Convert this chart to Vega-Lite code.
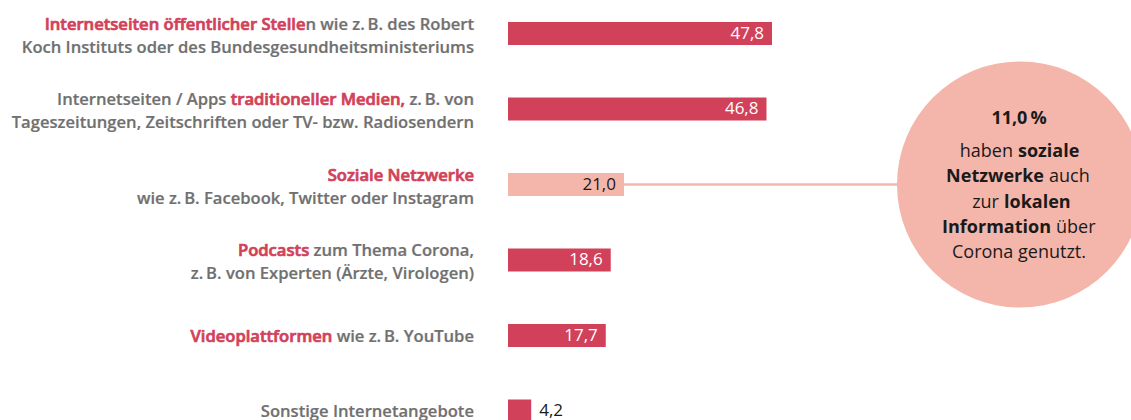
{
  "$schema": "https://vega.github.io/schema/vega-lite/v6.json",
  "autosize": "none",
  "width": 1131,
  "height": 420,
  "padding": 0,
  "background": "white",
  "config": {
    "view": {"stroke": null},
    "locale": {"number": {"decimal": ",", "thousands": ".", "grouping": [3], "currency": ["", " €"]}},
    "text": {"font": "Open Sans"}
  },
  "datasets": {
    "rows": [
      {"cat": "Öffentliche Stellen", "value": 47.8, "highlight": "nein",
       "label": "Internetseiten öffentlicher Stellen wie z.\u2009B. des Robert\nKoch Instituts oder des Bundesgesundheitsministeriums",
       "red": "Internetseiten öffentlicher Stellen wie z.\u2009B. des Robert\n",
       "tail": "n wie z.\u2009B. des Robert\n"},
      {"cat": "Traditionelle Medien", "value": 46.8, "highlight": "nein",
       "label": "Internetseiten / Apps traditioneller Medien, z.\u2009B. von\nTageszeitungen, Zeitschriften oder TV- bzw. Radiosendern",
       "red": "traditioneller Medien, z.\u2009B. von\n",
       "tail": "z.\u2009B. von\n"},
      {"cat": "Soziale Netzwerke", "value": 21.0, "highlight": "ja",
       "label": "Soziale Netzwerke\nwie z.\u2009B. Facebook, Twitter oder Instagram",
       "red": "Soziale Netzwerke\n",
       "tail": ""},
      {"cat": "Podcasts", "value": 18.6, "highlight": "nein",
       "label": "Podcasts zum Thema Corona,\nz.\u2009B. von Experten (Ärzte, Virologen)",
       "red": "Podcasts zum Thema Corona,\n",
       "tail": "zum Thema Corona,\n"},
      {"cat": "Videoplattformen", "value": 17.7, "highlight": "nein",
       "label": "Videoplattformen wie z.\u2009B. YouTube",
       "red": "Videoplattformen wie z.\u2009B. YouTube",
       "tail": "wie z.\u2009B. YouTube"},
      {"cat": "Sonstige", "value": 4.2, "highlight": "nein",
       "label": "Sonstige Internetangebote",
       "red": "",
       "tail": ""}
    ],
    "note": [
      {"part": "pct", "t": "11,0\u2009%"},
      {"part": "l2a", "t": "haben"},
      {"part": "l2b", "t": "soziale"},
      {"part": "l3a", "t": "Netzwerke"},
      {"part": "l3b", "t": "auch"},
      {"part": "l4a", "t": "zur"},
      {"part": "l4b", "t": "lokalen"},
      {"part": "l5a", "t": "Information"},
      {"part": "l5b", "t": "über"},
      {"part": "l6", "t": "Corona genutzt."}
    ]
  },
  "data": {"name": "rows"},
  "encoding": {
    "y": {
      "field": "cat", "type": "nominal", "sort": null, "axis": null,
      "scale": {
        "domain": ["Öffentliche Stellen", "Traditionelle Medien", "Soziale Netzwerke", "Podcasts", "Videoplattformen", "Sonstige"],
        "range": [-4.25, 448.75], "paddingInner": 0.6954, "paddingOuter": 0.3477
      }
    }
  },
  "layer": [
    {
      "mark": {"type": "bar"},
      "encoding": {
        "x": {"field": "value", "type": "quantitative", "axis": null,
              "scale": {"domain": [-91.98, 112.8], "nice": false, "zero": false}},
        "x2": {"datum": 0},
        "color": {"condition": {"test": "datum.highlight == 'ja'", "value": "#f4b6ab"}, "value": "#d2415a"}
      }
    },
    {
      "transform": [{"filter": "datum.value >= 10"}],
      "mark": {"type": "text", "align": "right", "baseline": "middle", "dx": -8, "fontSize": 17},
      "encoding": {
        "x": {"field": "value", "type": "quantitative"},
        "text": {"field": "value", "type": "quantitative", "format": ".1f"},
        "color": {"condition": {"test": "datum.highlight == 'ja'", "value": "#1a1a1a"}, "value": "#ffffff"}
      }
    },
    {
      "transform": [{"filter": "datum.value < 10"}],
      "mark": {"type": "text", "align": "left", "baseline": "middle", "dx": 8, "fontSize": 17, "color": "#1a1a1a"},
      "encoding": {
        "x": {"field": "value", "type": "quantitative"},
        "text": {"field": "value", "type": "quantitative", "format": ".1f"}
      }
    },

    {
      "transform": [{"filter": "indexof(datum.label, '\\n') >= 0"}],
      "mark": {"type": "text", "align": "right", "baseline": "middle", "dx": -34, "dy": -9, "fontSize": 16.6, "fontWeight": 600, "lineBreak": "\n", "lineHeight": 23, "color": "#707070", "stroke": "#707070", "strokeWidth": 0.2},
      "encoding": {"x": {"datum": 0}, "text": {"field": "label", "type": "nominal"}}
    },
    {
      "transform": [{"filter": "indexof(datum.label, '\\n') >= 0"}],
      "mark": {"type": "text", "align": "right", "baseline": "middle", "dx": -34, "dy": -9, "fontSize": 16.6, "fontWeight": 600, "lineBreak": "\n", "lineHeight": 23, "color": "#ffffff", "stroke": "#ffffff", "strokeWidth": 1.8},
      "encoding": {"x": {"datum": 0}, "text": {"field": "red", "type": "nominal"}}
    },
    {
      "transform": [{"filter": "indexof(datum.label, '\\n') >= 0"}],
      "mark": {"type": "text", "align": "right", "baseline": "middle", "dx": -34, "dy": -9, "fontSize": 16.6, "fontWeight": 600, "lineBreak": "\n", "lineHeight": 23, "color": "#d2415a", "stroke": "#d2415a", "strokeWidth": 0.7},
      "encoding": {"x": {"datum": 0}, "text": {"field": "red", "type": "nominal"}}
    },
    {
      "transform": [{"filter": "indexof(datum.label, '\\n') >= 0"}],
      "mark": {"type": "text", "align": "right", "baseline": "middle", "dx": -34, "dy": -9, "fontSize": 16.6, "fontWeight": 600, "lineBreak": "\n", "lineHeight": 23, "color": "#ffffff", "stroke": "#ffffff", "strokeWidth": 1.8},
      "encoding": {"x": {"datum": 0}, "text": {"field": "tail", "type": "nominal"}}
    },
    {
      "transform": [{"filter": "indexof(datum.label, '\\n') >= 0"}],
      "mark": {"type": "text", "align": "right", "baseline": "middle", "dx": -34, "dy": -9, "fontSize": 16.6, "fontWeight": 600, "lineBreak": "\n", "lineHeight": 23, "color": "#707070", "stroke": "#707070", "strokeWidth": 0.2},
      "encoding": {"x": {"datum": 0}, "text": {"field": "tail", "type": "nominal"}}
    },

    {
      "transform": [{"filter": "indexof(datum.label, '\\n') < 0"}],
      "mark": {"type": "text", "align": "right", "baseline": "middle", "dx": -34, "dy": 1, "fontSize": 16.6, "fontWeight": 600, "color": "#707070", "stroke": "#707070", "strokeWidth": 0.2},
      "encoding": {"x": {"datum": 0}, "text": {"field": "label", "type": "nominal"}}
    },
    {
      "transform": [{"filter": "indexof(datum.label, '\\n') < 0"}],
      "mark": {"type": "text", "align": "right", "baseline": "middle", "dx": -34, "dy": 1, "fontSize": 16.6, "fontWeight": 600, "color": "#ffffff", "stroke": "#ffffff", "strokeWidth": 1.8},
      "encoding": {"x": {"datum": 0}, "text": {"field": "red", "type": "nominal"}}
    },
    {
      "transform": [{"filter": "indexof(datum.label, '\\n') < 0"}],
      "mark": {"type": "text", "align": "right", "baseline": "middle", "dx": -34, "dy": 1, "fontSize": 16.6, "fontWeight": 600, "color": "#d2415a", "stroke": "#d2415a", "strokeWidth": 0.7},
      "encoding": {"x": {"datum": 0}, "text": {"field": "red", "type": "nominal"}}
    },
    {
      "transform": [{"filter": "indexof(datum.label, '\\n') < 0"}],
      "mark": {"type": "text", "align": "right", "baseline": "middle", "dx": -34, "dy": 1, "fontSize": 16.6, "fontWeight": 600, "color": "#ffffff", "stroke": "#ffffff", "strokeWidth": 1.8},
      "encoding": {"x": {"datum": 0}, "text": {"field": "tail", "type": "nominal"}}
    },
    {
      "transform": [{"filter": "indexof(datum.label, '\\n') < 0"}],
      "mark": {"type": "text", "align": "right", "baseline": "middle", "dx": -34, "dy": 1, "fontSize": 16.6, "fontWeight": 600, "color": "#707070", "stroke": "#707070", "strokeWidth": 0.2},
      "encoding": {"x": {"datum": 0}, "text": {"field": "tail", "type": "nominal"}}
    },

    {
      "transform": [{"filter": "datum.highlight == 'ja'"}],
      "mark": {"type": "rule", "color": "#f4b6ab", "strokeWidth": 2.5},
      "encoding": {"x": {"field": "value", "type": "quantitative"}, "x2": {"datum": 92.7}}
    },
    {
      "transform": [{"filter": "datum.highlight == 'ja'"}],
      "mark": {"type": "point", "shape": "circle", "filled": true, "opacity": 1, "size": 60516, "color": "#f4b6ab"},
      "encoding": {"x": {"datum": 92.7}}
    },
    {
      "data": {"name": "note"},
      "transform": [{"filter": "datum.part == 'pct'"}],
      "mark": {"type": "text", "align": "center", "baseline": "middle", "dx": -1, "dy": -65.5, "fontSize": 18, "fontWeight": "bold", "color": "#1a1a1a"},
      "encoding": {"x": {"datum": 92.7}, "y": {"datum": "Soziale Netzwerke"}, "text": {"field": "t", "type": "nominal"}}
    },
    {
      "data": {"name": "note"},
      "transform": [{"filter": "datum.part == 'l2a'"}],
      "mark": {"type": "text", "align": "right", "baseline": "middle", "dx": -7, "dy": -32.5, "fontSize": 18, "color": "#1a1a1a"},
      "encoding": {"x": {"datum": 92.7}, "y": {"datum": "Soziale Netzwerke"}, "text": {"field": "t", "type": "nominal"}}
    },
    {
      "data": {"name": "note"},
      "transform": [{"filter": "datum.part == 'l2b'"}],
      "mark": {"type": "text", "align": "left", "baseline": "middle", "dx": -2, "dy": -32.5, "fontSize": 18, "fontWeight": "bold", "color": "#1a1a1a"},
      "encoding": {"x": {"datum": 92.7}, "y": {"datum": "Soziale Netzwerke"}, "text": {"field": "t", "type": "nominal"}}
    },
    {
      "data": {"name": "note"},
      "transform": [{"filter": "datum.part == 'l3a'"}],
      "mark": {"type": "text", "align": "right", "baseline": "middle", "dx": 24, "dy": -7.5, "fontSize": 18, "fontWeight": "bold", "color": "#1a1a1a"},
      "encoding": {"x": {"datum": 92.7}, "y": {"datum": "Soziale Netzwerke"}, "text": {"field": "t", "type": "nominal"}}
    },
    {
      "data": {"name": "note"},
      "transform": [{"filter": "datum.part == 'l3b'"}],
      "mark": {"type": "text", "align": "left", "baseline": "middle", "dx": 29, "dy": -7.5, "fontSize": 18, "color": "#1a1a1a"},
      "encoding": {"x": {"datum": 92.7}, "y": {"datum": "Soziale Netzwerke"}, "text": {"field": "t", "type": "nominal"}}
    },
    {
      "data": {"name": "note"},
      "transform": [{"filter": "datum.part == 'l4a'"}],
      "mark": {"type": "text", "align": "right", "baseline": "middle", "dx": -21, "dy": 18.5, "fontSize": 18, "color": "#1a1a1a"},
      "encoding": {"x": {"datum": 92.7}, "y": {"datum": "Soziale Netzwerke"}, "text": {"field": "t", "type": "nominal"}}
    },
    {
      "data": {"name": "note"},
      "transform": [{"filter": "datum.part == 'l4b'"}],
      "mark": {"type": "text", "align": "left", "baseline": "middle", "dx": -16, "dy": 18.5, "fontSize": 18, "fontWeight": "bold", "color": "#1a1a1a"},
      "encoding": {"x": {"datum": 92.7}, "y": {"datum": "Soziale Netzwerke"}, "text": {"field": "t", "type": "nominal"}}
    },
    {
      "data": {"name": "note"},
      "transform": [{"filter": "datum.part == 'l5a'"}],
      "mark": {"type": "text", "align": "right", "baseline": "middle", "dx": 31, "dy": 43.5, "fontSize": 18, "fontWeight": "bold", "color": "#1a1a1a"},
      "encoding": {"x": {"datum": 92.7}, "y": {"datum": "Soziale Netzwerke"}, "text": {"field": "t", "type": "nominal"}}
    },
    {
      "data": {"name": "note"},
      "transform": [{"filter": "datum.part == 'l5b'"}],
      "mark": {"type": "text", "align": "left", "baseline": "middle", "dx": 36, "dy": 43.5, "fontSize": 18, "color": "#1a1a1a"},
      "encoding": {"x": {"datum": 92.7}, "y": {"datum": "Soziale Netzwerke"}, "text": {"field": "t", "type": "nominal"}}
    },
    {
      "data": {"name": "note"},
      "transform": [{"filter": "datum.part == 'l6'"}],
      "mark": {"type": "text", "align": "center", "baseline": "middle", "dx": -1, "dy": 68.5, "fontSize": 18, "color": "#1a1a1a"},
      "encoding": {"x": {"datum": 92.7}, "y": {"datum": "Soziale Netzwerke"}, "text": {"field": "t", "type": "nominal"}}
    }
  ]
}
